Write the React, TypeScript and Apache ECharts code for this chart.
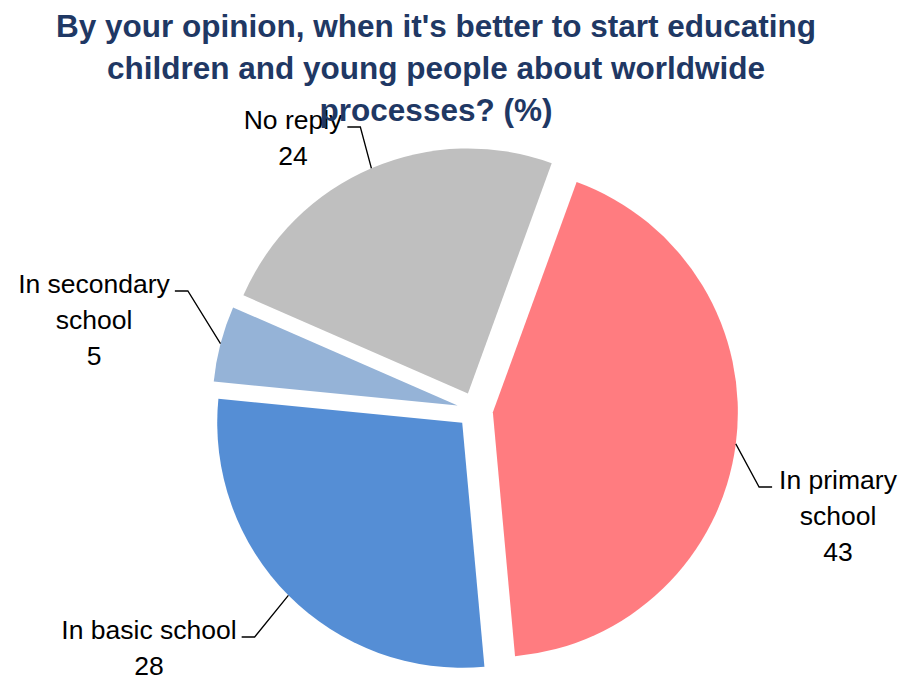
import React, { useEffect, useRef } from "react";
import * as echarts from "echarts";

const TITLE_LINES = [
  "By your opinion, when it's better to start educating",
  "children and young people about worldwide",
  "processes? (%)",
];
const categories = ["In primary school", "In basic school", "In secondary school", "No reply"];
const labelTexts = ["In primary\nschool", "In basic school", "In secondary\nschool", "No reply"];
const values = [43, 28, 5, 24];
const colors = ["#FF7C80", "#558ED5", "#95B3D7", "#BFBFBF"];
const labelAnchors: number[][] = [
  [838, 516],
  [149, 648],
  [94, 320],
  [293, 138],
];

const LINE_H = 36;

export default function App() {
  const ref = useRef<HTMLDivElement>(null);
  useEffect(() => {
    if (!ref.current) return;
    const chart = echarts.init(ref.current, undefined, { renderer: "svg" });
    const font = "'Liberation Sans', Arial, sans-serif";
    chart.setOption({
      animation: false,
      backgroundColor: "#ffffff",
      title: {
        text: TITLE_LINES.join("\n"),
        left: 431,
        top: 0,
        textAlign: "center",
        textStyle: {
          fontFamily: font,
          fontSize: 31.5,
          fontWeight: "bold",
          color: "#1F3864",
          lineHeight: 42,
        },
      },
      series: [
        {
          type: "pie",
          name: "slices",
          center: [475, 410],
          radius: 245,
          startAngle: 70,
          clockwise: true,
          selectedMode: "multiple",
          selectedOffset: 18,
          silent: true,
          emphasis: { disabled: true },
          select: { itemStyle: { borderWidth: 0 } },
          itemStyle: { borderWidth: 0 },
          label: { show: false },
          labelLine: { show: false },
          data: categories.map((name, i) => ({
            name,
            value: values[i],
            selected: true,
            itemStyle: { color: colors[i] },
          })),
          z: 2,
        },
        {
          type: "pie",
          name: "labels",
          center: [475, 410],
          radius: 263,
          startAngle: 70,
          clockwise: true,
          selectedMode: false,
          silent: true,
          avoidLabelOverlap: false,
          emphasis: { disabled: true },
          itemStyle: { color: "rgba(0,0,0,0)", borderWidth: 0 },
          label: {
            show: true,
            position: "outside",
            color: "#000000",
            fontFamily: font,
            fontSize: 26.5,
            lineHeight: LINE_H,
            align: "center",
            formatter: (p: any) => labelTexts[p.dataIndex] + "\n" + p.value,
          },
          labelLine: {
            show: true,
            length: 15,
            length2: 12,
            lineStyle: { color: "#000000", width: 1.3 },
          },
          labelLayout: (params: any) => {
            const i = params.dataIndex;
            const x = labelAnchors[i][0];
            const y = labelAnchors[i][1];
            const w = params.labelRect ? params.labelRect.width : 0;
            const nLines = (labelTexts[i] + "\n" + values[i]).split("\n").length;
            const sy = y - ((nLines - 1) * LINE_H) / 2 + 7;
            const start =
              params.labelLinePoints && params.labelLinePoints[0]
                ? params.labelLinePoints[0]
                : [x, y];
            const onRight = start[0] < x;
            const edge = onRight ? x - w / 2 - 7 : x + w / 2 + 5;
            const bend = onRight ? edge - 13 : edge + 13;
            return {
              x,
              y,
              align: "center",
              verticalAlign: "middle",
              labelLinePoints: [
                [start[0], start[1]],
                [bend, sy],
                [edge, sy],
              ],
            };
          },
          data: categories.map((name, i) => ({ name, value: values[i] })),
          z: 3,
        },
      ],
    });
    return () => chart.dispose();
  }, []);
  return (
    <div
      ref={ref}
      style={{ position: "absolute", left: 0, top: 0, width: 904, height: 679 }}
    />
  );
}
